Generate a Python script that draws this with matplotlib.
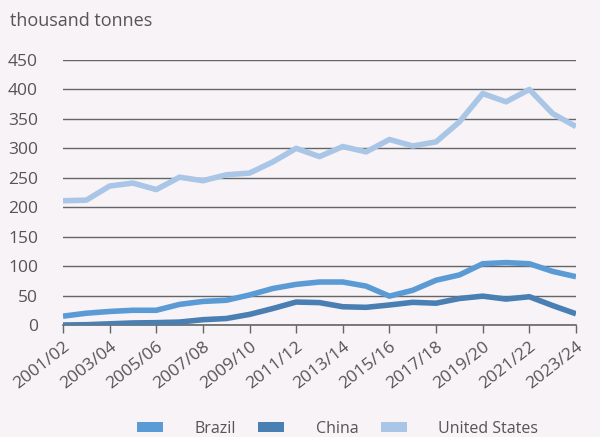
import matplotlib

matplotlib.use("Agg")
import matplotlib.pyplot as plt
from matplotlib.patches import Patch

plt.rcParams["font.family"] = ["Open Sans", "DejaVu Sans"]

# Marketing years
years = [
    "2001/02", "2002/03", "2003/04", "2004/05", "2005/06", "2006/07",
    "2007/08", "2008/09", "2009/10", "2010/11", "2011/12", "2012/13",
    "2013/14", "2014/15", "2015/16", "2016/17", "2017/18", "2018/19",
    "2019/20", "2020/21", "2021/22", "2022/23", "2023/24",
]

# thousand tonnes
brazil = [15, 20, 23, 25, 25, 35, 40, 42, 51, 62, 69, 73,
          73, 66, 49, 59, 76, 85, 104, 106, 104, 91, 82]
china = [0, 0.5, 2, 3.5, 4, 5, 9, 11, 18, 28, 39, 38,
         31, 30, 34, 38.5, 37, 45, 49, 44, 48, 33, 19]
united_states = [211, 212, 236, 241, 230, 251, 245, 255, 258, 277, 300, 286,
                 303, 294, 315, 304, 311, 345, 393, 379, 400, 359, 337]

series_names = ["Brazil", "China", "United States"]
colours = ["#5b9bd5", "#4a7fb3", "#a9c6e7"]

bg = "#f7f3f7"
text_col = "#555555"

fig = plt.figure(figsize=(6, 4.37), dpi=100)
fig.patch.set_facecolor(bg)
ax = fig.add_axes([63 / 600, 1 - 325 / 437, (576 - 63) / 600, (325 - 60) / 437])
ax.set_facecolor(bg)

x = list(range(len(years)))
for vals, col in zip([brazil, china, united_states], colours):
    ax.plot(x, vals, color=col, lw=4, solid_capstyle="butt", zorder=3)

ax.set_ylim(0, 450)
ax.set_xlim(0, len(years) - 1)
ax.set_yticks(range(0, 451, 50))
ax.yaxis.grid(True, color="#666666", lw=1)
ax.set_axisbelow(True)

ax.set_xticks(x[::2])
ax.set_xticklabels(years[::2], rotation=38, ha="right", rotation_mode="anchor")

for side in ["left", "right", "top"]:
    ax.spines[side].set_visible(False)
ax.spines["bottom"].set_color("#666666")
ax.spines["bottom"].set_linewidth(1.2)

ax.tick_params(axis="y", length=0, pad=18, labelsize=12.5, labelcolor=text_col)
ax.tick_params(axis="x", direction="out", length=6, width=1, color="#666666",
               pad=4, labelsize=12.5, labelcolor=text_col)

fig.text(10 / 600, 1 - 21 / 437, "thousand tonnes", fontsize=13,
         color=text_col, va="center", ha="left")

handles = [Patch(facecolor=c, edgecolor="none") for c in colours]
fig.legend(handles, series_names, loc="center", bbox_to_anchor=(0.563, 1 - 429 / 437),
           ncol=3, frameon=False, fontsize=11.5, labelcolor=text_col,
           handlelength=1.6, handleheight=0.6, handletextpad=2.0, columnspacing=1.4)

fig.savefig("out.png", dpi=100, facecolor=bg)
